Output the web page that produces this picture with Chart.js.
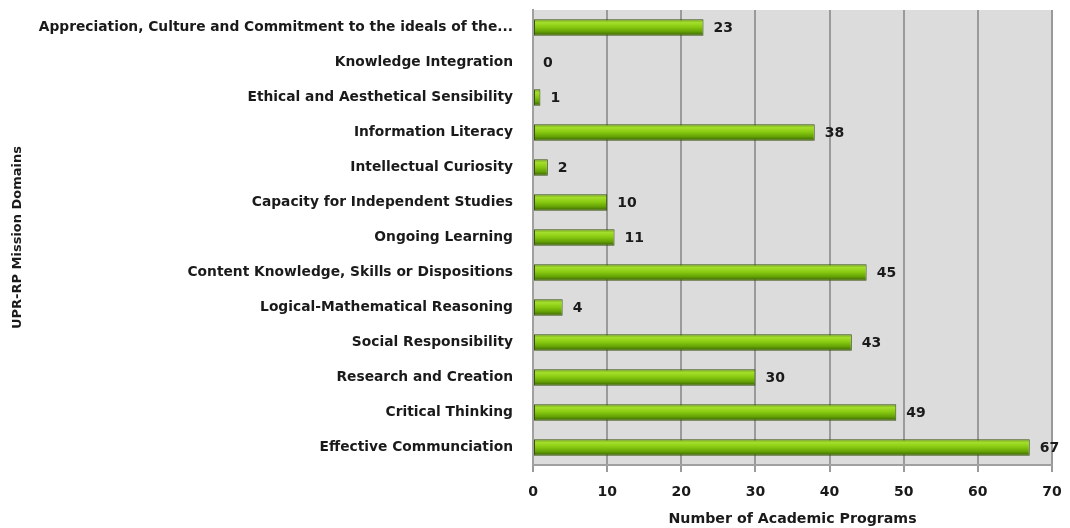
<!DOCTYPE html>
<html>
<head>
<meta charset="utf-8">
<script src="https://cdn.jsdelivr.net/npm/chart.js@4"></script>
<style>
html,body{margin:0;padding:0;background:#fff;}
#wrap{width:1070px;height:528px;position:relative;}
</style>
</head>
<body>
<div id="wrap"><canvas id="c" width="1070" height="528"></canvas></div>
<script>
const categories = [
  "Appreciation, Culture and Commitment to the ideals of the...",
  "Knowledge Integration",
  "Ethical and Aesthetical Sensibility",
  "Information Literacy",
  "Intellectual Curiosity",
  "Capacity for Independent Studies",
  "Ongoing Learning",
  "Content Knowledge, Skills or Dispositions",
  "Logical-Mathematical Reasoning",
  "Social Responsibility",
  "Research and Creation",
  "Critical Thinking",
  "Effective Communciation"
];
const programCounts = [23, 0, 1, 38, 2, 10, 11, 45, 4, 43, 30, 49, 67];
const xTickValues = [0, 10, 20, 30, 40, 50, 60, 70];
const xTitle = "Number of Academic Programs";
const yTitle = "UPR-RP Mission Domains";

const FONT = "'DejaVu Sans', sans-serif";

const bgPlugin = {
  id: 'plotBg',
  beforeDraw(chart) {
    const {ctx, chartArea: a} = chart;
    ctx.save();
    ctx.fillStyle = '#dcdcdc';
    ctx.fillRect(a.left, a.top, a.right - a.left, a.bottom - a.top);
    ctx.restore();
  }
};

const labelPlugin = {
  id: 'valueLabels',
  afterDatasetsDraw(chart) {
    const {ctx} = chart;
    const meta = chart.getDatasetMeta(0);
    ctx.save();
    ctx.font = "bold 14px " + FONT;
    ctx.fillStyle = '#1a1a1a';
    ctx.textAlign = 'left';
    ctx.textBaseline = 'middle';
    meta.data.forEach((el, i) => {
      const v = chart.data.datasets[0].data[i];
      ctx.fillText(String(v), el.x + 10, el.y + 1);
    });
    ctx.restore();
  }
};

function barGradient(context) {
  const chart = context.chart;
  const ys = chart.scales && chart.scales.y;
  if (!ys || context.dataIndex === undefined) return '#7cbc12';
  const yc = ys.getPixelForValue(context.dataIndex);
  if (!isFinite(yc)) return '#7cbc12';
  const h = 8;
  const g = chart.ctx.createLinearGradient(0, yc - h, 0, yc + h);
  g.addColorStop(0, '#6a9c10');
  g.addColorStop(0.18, '#a4de2c');
  g.addColorStop(0.45, '#8acc12');
  g.addColorStop(0.75, '#66a406');
  g.addColorStop(1, '#3a6004');
  return g;
}

new Chart(document.getElementById('c'), {
  type: 'bar',
  data: {
    labels: categories,
    datasets: [{
      data: programCounts,
      backgroundColor: barGradient,
      borderColor: '#37520c',
      borderWidth: 1,
      borderSkipped: false,
      barPercentage: 0.95,
      categoryPercentage: 0.5
    }]
  },
  options: {
    indexAxis: 'y',
    responsive: false,
    animation: false,
    devicePixelRatio: 1,
    layout: { padding: { top: 10, right: 18, bottom: 0, left: 0 } },
    plugins: { legend: { display: false }, tooltip: { enabled: false } },
    scales: {
      x: {
        min: 0, max: 70,
        afterBuildTicks(s) { s.ticks = xTickValues.map(v => ({value: v})); },
        afterFit(s) { s.height = 63; s.paddingLeft = 0; s.paddingRight = 0; },
        grid: { color: '#9a9a9a', lineWidth: 2, tickLength: 7, tickColor: '#9a9a9a' },
        border: { display: true, color: '#a0a0a0', width: 2 },
        ticks: { font: { family: FONT, size: 14, weight: 'bold' }, color: '#1a1a1a', padding: 12 },
        title: { display: true, text: xTitle, font: { family: FONT, size: 14.2, weight: 'bold' }, color: '#1a1a1a', padding: { top: 0, bottom: 0 } }
      },
      y: {
        afterFit(s) { s.width = 533; s.paddingTop = 0; s.paddingBottom = 0; },
        grid: { display: false, drawTicks: false },
        border: { display: true, color: '#a0a0a0', width: 2 },
        ticks: { font: { family: FONT, size: 13.8, weight: 'bold' }, color: '#1a1a1a', padding: 20, autoSkip: false },
        title: { display: true, text: yTitle, font: { family: FONT, size: 13, weight: 'bold' }, color: '#1a1a1a', padding: { top: 10, bottom: 0 } }
      }
    }
  },
  plugins: [bgPlugin, labelPlugin]
});
</script>
</body>
</html>
